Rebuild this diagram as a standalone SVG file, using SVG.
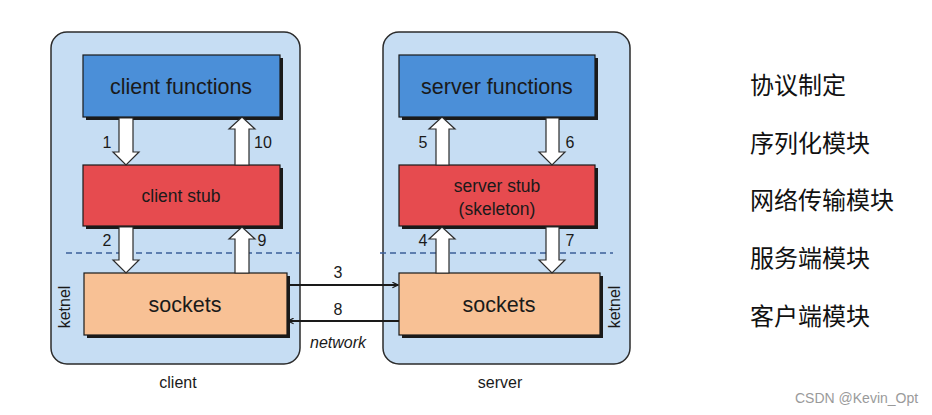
<svg xmlns="http://www.w3.org/2000/svg" width="932" height="415" viewBox="0 0 932 415">
<defs>
<style>
.cont{fill:#c6ddf3;stroke:#2b2b2b;stroke-width:1.5}
.shadow{fill:#1a1a1a}
.box{stroke:#1a1a1a;stroke-width:1.2}
.fn{fill:#4b8fd8}
.stub{fill:#e64b4f}
.sock{fill:#f8c195}
.t{font-family:"Liberation Sans",Arial,sans-serif;fill:#1a1a1a;text-anchor:middle}
.big{font-size:21.5px}
.mid{font-size:17.5px}
.num{font-size:16px}
.arr{fill:#ffffff;stroke:#2b2b2b;stroke-width:1.2;stroke-linejoin:miter}
.dash{stroke:#3b5f99;stroke-width:1.6;stroke-dasharray:6 4;fill:none}
.net{stroke:#1a1a1a;stroke-width:1.8;fill:none}
.cjk{font-family:"Noto Sans CJK SC",sans-serif;font-size:24px;fill:#111}
</style>
<marker id="head" viewBox="0 0 10 10" refX="9" refY="5" markerWidth="7" markerHeight="7" orient="auto-start-reverse" markerUnits="userSpaceOnUse">
<path d="M1,1 L9,5 L1,9" fill="none" stroke="#1a1a1a" stroke-width="1.8"/>
</marker>
</defs>

<g id="client-container">
<rect class="cont" x="51" y="32" width="249" height="332" rx="16"/>
<text class="t num" x="178" y="388">client</text>
<text class="t num" transform="translate(70,307) rotate(-90)">ketnel</text>
</g>
<g id="server-container">
<rect class="cont" x="383" y="32" width="247" height="332" rx="16"/>
<text class="t num" x="500" y="388">server</text>
<text class="t num" transform="translate(620,307) rotate(-90)">ketnel</text>
</g>

<g id="dashes">
<line class="dash" x1="66" y1="253" x2="300" y2="253"/>
<line class="dash" x1="380" y1="253" x2="613" y2="253"/>
</g>

<g id="client-functions">
<rect class="shadow" x="86" y="58" width="197" height="62"/>
<rect class="box fn" x="83" y="55" width="197" height="62"/>
<text class="t big" x="181" y="94">client functions</text>
</g>
<g id="client-stub">
<rect class="shadow" x="86" y="168" width="197" height="61"/>
<rect class="box stub" x="83" y="165" width="197" height="61"/>
<text class="t mid" x="181" y="202">client stub</text>
</g>
<g id="client-sockets">
<rect class="shadow" x="87" y="276" width="203" height="62"/>
<rect class="box sock" x="84" y="273" width="203" height="62"/>
<text class="t big" x="185" y="312">sockets</text>
</g>

<g id="server-functions">
<rect class="shadow" x="402" y="58" width="196" height="62"/>
<rect class="box fn" x="399" y="55" width="196" height="62"/>
<text class="t big" x="497" y="94">server functions</text>
</g>
<g id="server-stub">
<rect class="shadow" x="402" y="168" width="196" height="61"/>
<rect class="box stub" x="399" y="165" width="196" height="61"/>
<text class="t mid" x="497" y="192">server stub</text>
<text class="t mid" x="497" y="215">(skeleton)</text>
</g>
<g id="server-sockets">
<rect class="shadow" x="402" y="276" width="201" height="62"/>
<rect class="box sock" x="399" y="273" width="201" height="62"/>
<text class="t big" x="499" y="312">sockets</text>
</g>

<g id="connectors">
<polygon class="arr" points="119,118 133,118 133,152 139,152 126,165 113,152 119,152"/>
<polygon class="arr" points="235,165 249,165 249,129 255,129 242,117 229,129 235,129"/>
<polygon class="arr" points="119,227 133,227 133,260 139,260 126,273 113,260 119,260"/>
<polygon class="arr" points="235,273 249,273 249,239 255,239 242,227 229,239 235,239"/>
<polygon class="arr" points="436,165 449,165 449,129 455,129 442,117 429,129 436,129"/>
<polygon class="arr" points="546,118 559,118 559,152 565,152 552,165 539,152 546,152"/>
<polygon class="arr" points="436,273 449,273 449,239 455,239 442,227 429,239 436,239"/>
<polygon class="arr" points="546,227 559,227 559,260 565,260 552,273 539,260 546,260"/>
<line class="net" x1="287" y1="285" x2="398" y2="285" marker-end="url(#head)"/>
<line class="net" x1="399" y1="321" x2="288" y2="321" marker-end="url(#head)"/>
<text class="t num" x="107" y="148">1</text>
<text class="t num" x="263" y="148">10</text>
<text class="t num" x="107" y="246">2</text>
<text class="t num" x="262" y="246">9</text>
<text class="t num" x="423" y="148">5</text>
<text class="t num" x="570" y="148">6</text>
<text class="t num" x="423" y="246">4</text>
<text class="t num" x="570" y="246">7</text>
<text class="t num" x="338" y="278">3</text>
<text class="t num" x="338" y="315">8</text>
<text class="t num" x="338" y="348" font-style="italic">network</text>
</g>

<g id="notes">
<text class="cjk" x="750" y="94">协议制定</text>
<text class="cjk" x="750" y="152">序列化模块</text>
<text class="cjk" x="750" y="209">网络传输模块</text>
<text class="cjk" x="750" y="267">服务端模块</text>
<text class="cjk" x="750" y="325">客户端模块</text>
</g>
<text x="795" y="403" font-family="Liberation Sans,Arial,sans-serif" font-size="14" fill="#9a9a9a">CSDN @Kevin_Opt</text>
</svg>
